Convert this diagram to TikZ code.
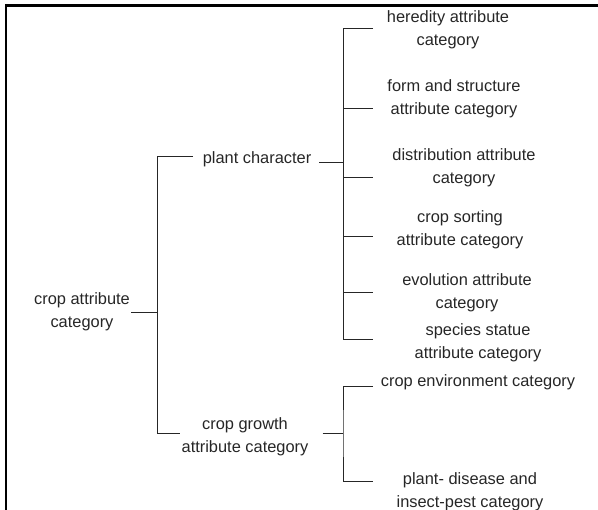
\documentclass[tikz,border=0pt]{standalone}
\usepackage{fontspec}
\setmainfont{Liberation Sans}
\begin{document}
\begin{tikzpicture}[x=1pt,y=-1pt,
  lbl/.style={align=center,inner sep=0pt,font=\fontsize{16.4}{23.5}\selectfont,text=black!85},
  link/.style={line width=0.9pt,black!85},
  frame/.style={line width=2.6pt,black}]
\useasboundingbox (0,0) rectangle (598,510);
\draw[frame] (5,5.3) -- (598,5.3);
\draw[frame] (6,4) -- (6,510);
% nodes
\node[lbl] (root) at (82,312) {crop attribute\\category};
\node[lbl] (pc) at (257,159) {plant character};
\node[lbl] (cg) at (245,437) {crop growth\\attribute category};
\node[lbl] (her) at (448,30) {heredity attribute\\category};
\node[lbl] (form) at (454,99) {form and structure\\attribute category};
\node[lbl] (dist) at (464,168) {distribution attribute\\category};
\node[lbl] (sort) at (460,230) {crop sorting\\attribute category};
\node[lbl] (evo) at (467,293) {evolution attribute\\category};
\node[lbl] (spec) at (478,343) {species statue\\attribute category};
\node[lbl] (env) at (478,382) {crop environment category};
\node[lbl] (dis) at (470,492) {plant- disease and\\insect-pest category};
% junctions
\coordinate (j1) at (157,312);
\coordinate (j2) at (343,162);
\coordinate (j3) at (343,433);
\coordinate (e1) at (373,28);
\coordinate (e2) at (373,108);
\coordinate (e3) at (373,177);
\coordinate (e4) at (373,236);
\coordinate (e5) at (373,292);
\coordinate (e6) at (373,339);
\coordinate (e7) at (373,386);
\coordinate (e8) at (373,481);
\coordinate (a1) at (193,156);
\coordinate (a2) at (180,433);
% connectors
\draw[link] ([xshift=1pt]root.east |- j1) -- (j1);
\draw[link] (a1) -| (j1 |- a2) -- (a2);
\draw[link] ([xshift=8pt]pc.east |- j2) -- (j2);
\draw[link] (e1) -| (j2 |- e6) -- (e6);
\foreach \e in {e2,e3,e4,e5} \draw[link] (j2 |- \e) -- (\e);
\draw[link] ([xshift=14pt]cg.east |- j3) -- (j3);
\draw[link] (e7) -| (j3) |- (e8);
\end{tikzpicture}
\end{document}
